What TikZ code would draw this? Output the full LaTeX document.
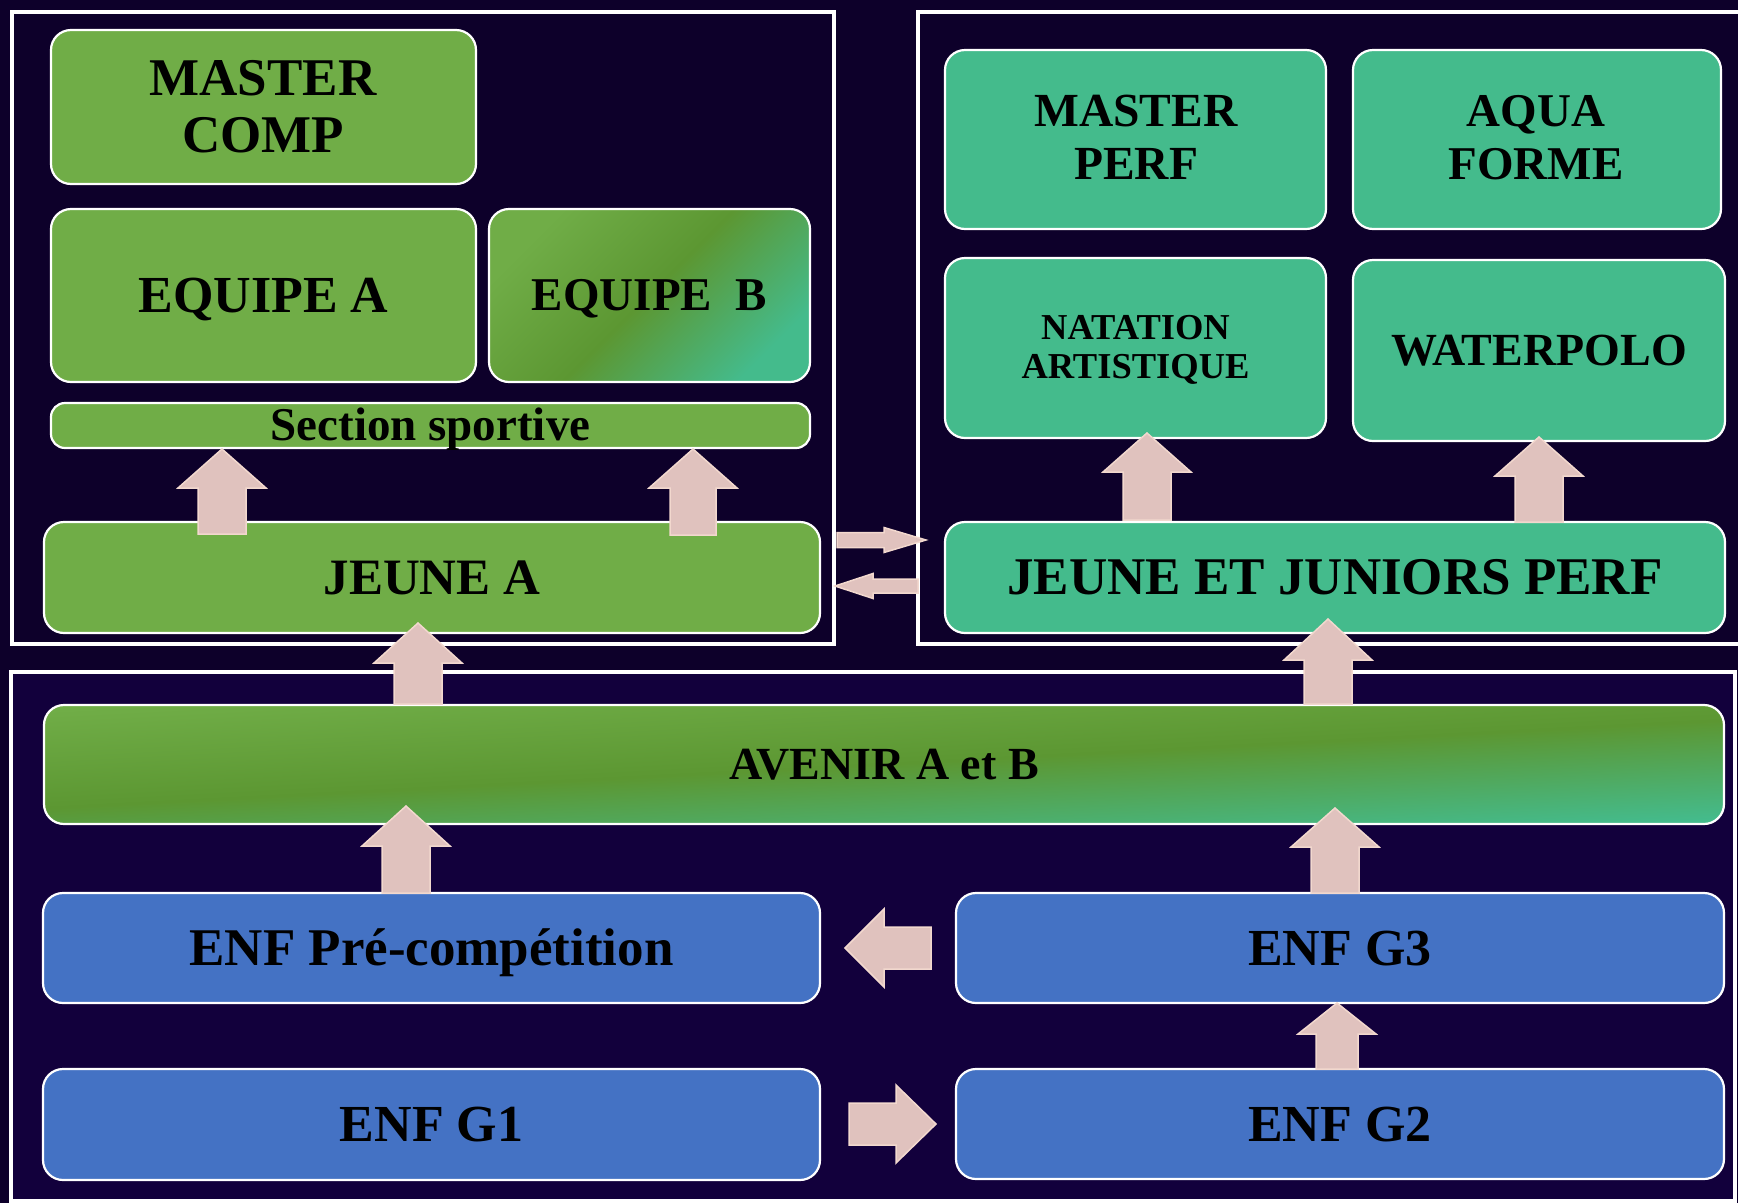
\documentclass[tikz,border=0pt]{standalone}
\usepackage{fontspec}
\setmainfont{Liberation Serif}
\definecolor{bgtop}{RGB}{13,0,42}
\definecolor{bgbot}{RGB}{18,0,60}
\definecolor{gr}{RGB}{112,173,71}
\definecolor{grdark}{RGB}{92,151,50}
\definecolor{tealbox}{RGB}{68,187,140}
\definecolor{bl}{RGB}{68,114,196}
\definecolor{arrfill}{RGB}{224,194,190}
\definecolor{arrline}{RGB}{242,216,206}
\newcommand\fsz[1]{\fontsize{#1pt}{#1pt}\selectfont\bfseries}
% vertical block arrow: x, y tail, y head base, y tip, half shaft, half head
\newcommand\varrow[6]{%
  \draw[barrow] (#1-#5,#2) -- (#1-#5,#3) -- (#1-#6,#3) -- (#1,#4) -- (#1+#6,#3) -- (#1+#5,#3) -- (#1+#5,#2) -- cycle;}
% horizontal block arrow: y, x tail, x head base, x tip, half shaft, half head
\newcommand\harrow[6]{%
  \draw[barrow] (#2,#1-#5) -- (#3,#1-#5) -- (#3,#1-#6) -- (#4,#1) -- (#3,#1+#6) -- (#3,#1+#5) -- (#2,#1+#5) -- cycle;}
\begin{document}
\begin{tikzpicture}[x=1pt,y=-1pt,
  box/.style={draw=white, line width=2.2pt, rounded corners=20pt, inner sep=0pt, outer sep=0pt, text=black},
  frame/.style={draw=white, line width=3.5pt},
  barrow/.style={fill=arrfill, draw=arrline, line width=1.5pt, line join=miter},
  txt/.style={inner sep=0pt, text=black, anchor=base},
  grad/.style={top color=gr, bottom color=tealbox, middle color=grdark, shading angle=#1},
]
\useasboundingbox (0,0) rectangle (1738,1203);
\fill[bgtop] (0,0) rectangle (1738,1203);
\fill[bgbot] (11,672) rectangle (1735,1201);

% frames
\draw[frame] (12,12) rectangle (834,644);
\draw[frame] (1738,12) -- (918,12) -- (918,644) -- (1738,644);
\draw[frame] (11,672) rectangle (1735,1201);

% left group
\node[box, fill=gr, minimum width=425pt, minimum height=154pt] (mc) at (263.5,107) {};
\node[txt, font=\fsz{53}] (mc1) at (263,95) {MASTER};
\node[txt, font=\fsz{53}] (mc2) at (263,152) {COMP};

\node[box, fill=gr, minimum width=425pt, minimum height=173pt, font=\fsz{52}, text height=34pt, text depth=0pt] (eqa) at (263.5,295.5) {EQUIPE A};
\node[box, grad=45, minimum width=321pt, minimum height=173pt, font=\fsz{47}, text height=30.8pt, text depth=0pt] (eqb) at (649.5,295.5) {EQUIPE\ \ B};
\node[box, rounded corners=14pt, fill=gr, minimum width=759pt, minimum height=45pt, font=\fsz{47}, text height=30.8pt, text depth=0pt] (ss) at (430.5,425.5) {Section sportive};
\node[box, fill=gr, minimum width=776pt, minimum height=111pt, font=\fsz{51}, text height=33.4pt, text depth=0pt] (ja) at (432,577.5) {JEUNE A};

% right group
\node[box, fill=tealbox, minimum width=381pt, minimum height=179pt] (mp) at (1135.5,139.5) {};
\node[txt, font=\fsz{47.5}] (mp1) at (1136,126) {MASTER};
\node[txt, font=\fsz{47.5}] (mp2) at (1136,179) {PERF};
\node[box, fill=tealbox, minimum width=368pt, minimum height=179pt] (af) at (1537,139.5) {};
\node[txt, font=\fsz{47}] (af1) at (1536,126) {AQUA};
\node[txt, font=\fsz{47}] (af2) at (1536,179) {FORME};
\node[box, fill=tealbox, minimum width=381pt, minimum height=180pt] (nat) at (1135.5,348) {};
\node[txt, font=\fsz{36.5}] (nat1) at (1135.5,339) {NATATION};
\node[txt, font=\fsz{36.5}] (nat2) at (1135.5,378) {ARTISTIQUE};
\node[box, fill=tealbox, minimum width=372pt, minimum height=181pt, font=\fsz{46}, text height=30.1pt, text depth=0pt] (wp) at (1539,350.5) {WATERPOLO};
\node[box, fill=tealbox, minimum width=780pt, minimum height=111pt, font=\fsz{53}, text height=34.7pt, text depth=0pt] (jjp) at (1335,577.5) {JEUNE ET JUNIORS PERF};

% bottom group
\node[box, grad=3, minimum width=1680pt, minimum height=119pt, font=\fsz{46}, text height=30.1pt, text depth=0pt] (av) at (884,764.5) {AVENIR A et B};
\node[box, fill=bl, minimum width=777pt, minimum height=110pt, font=\fsz{53}, text height=34.7pt, text depth=0pt] (pre) at (431.5,948) {ENF Pré-compétition};
\node[box, fill=bl, minimum width=768pt, minimum height=110pt, font=\fsz{52}, text height=34pt, text depth=0pt] (g3) at (1340,948) {ENF G3};
\node[box, fill=bl, minimum width=777pt, minimum height=111pt, font=\fsz{52}, text height=34pt, text depth=0pt] (g1) at (431.5,1124.5) {ENF G1};
\node[box, fill=bl, minimum width=768pt, minimum height=110pt, font=\fsz{52}, text height=34pt, text depth=0pt] (g2) at (1340,1124) {ENF G2};

% block arrows
\varrow{222}{534}{488}{449}{24}{44}
\varrow{693}{535}{488}{449}{23}{44}
\varrow{1147}{520}{472}{433}{24}{44}
\varrow{1539}{522}{476}{437}{24}{44}
\varrow{418}{704}{663}{623}{24}{44}
\varrow{1328}{704}{660}{619}{24}{44}
\varrow{406}{893}{846}{806}{24}{44}
\varrow{1335}{893}{847}{808}{24}{44}
\varrow{1337}{1069}{1034}{1003}{21}{39}
\harrow{948}{931}{884}{845}{21}{39}
\harrow{1124}{849}{896}{936}{21}{39}
\harrow{540}{837}{884}{926}{7.5}{12.5}
\harrow{586}{918}{873}{835}{7}{12.5}
\end{tikzpicture}
\end{document}
